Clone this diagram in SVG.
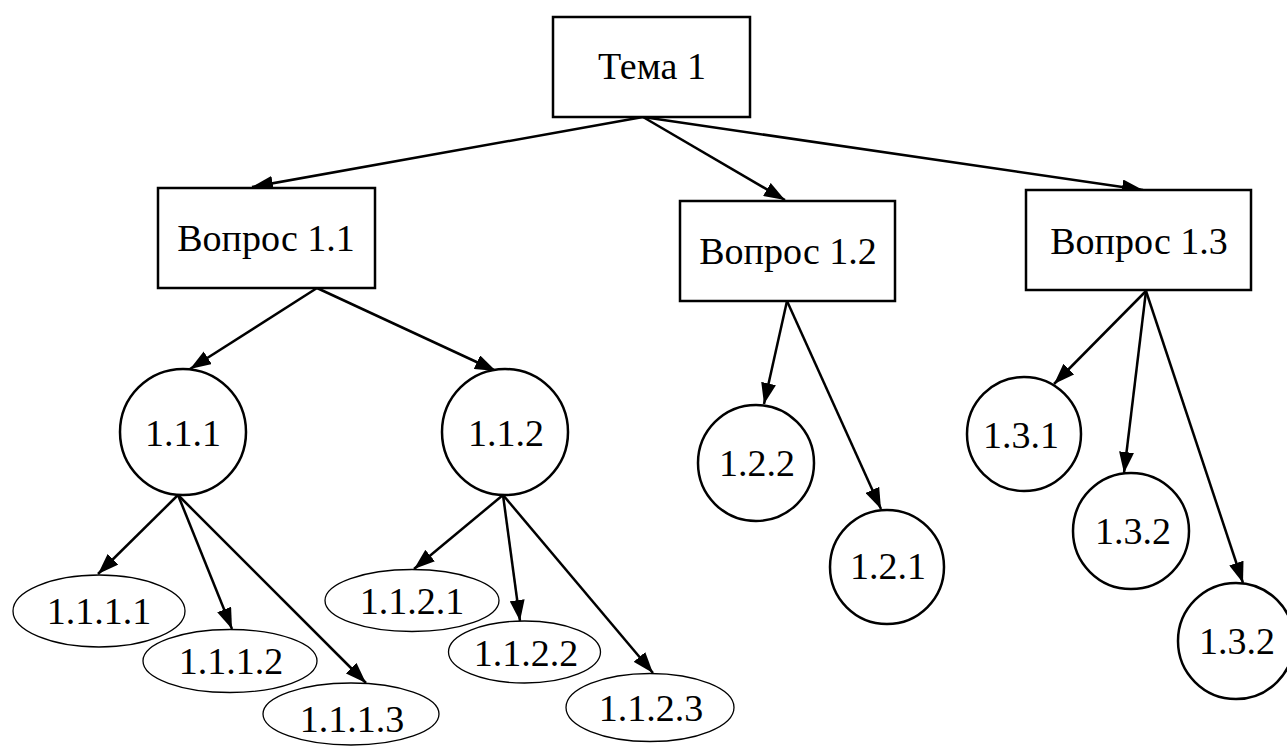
<svg xmlns="http://www.w3.org/2000/svg" width="1287" height="749" viewBox="0 0 1287 749">
<style>
.box{fill:#fff;stroke:#000;stroke-width:2.5}
.circ{fill:#fff;stroke:#000;stroke-width:2.5}
.ell{fill:#fff;stroke:#000;stroke-width:1.3}
.lbl{font-size:38px;fill:#000;text-anchor:middle}
.edge{fill:none;stroke:#000;stroke-width:2.5;marker-end:url(#arr)}
</style>
<defs>
<marker id="arr" markerUnits="userSpaceOnUse" markerWidth="21" markerHeight="15" viewBox="0 0 21 15" refX="21" refY="7.5" orient="auto">
<path d="M0,0 L21,7.5 L0,15 z" fill="#000"/>
</marker>
</defs>
<rect width="1287" height="749" fill="#fff"/>
<g id="connectors">
<path class="edge" d="M643,117 L252,187"/>
<path class="edge" d="M643,117 L785,200"/>
<path class="edge" d="M643,117 L1143,190"/>
<path class="edge" d="M317,288 L190,369"/>
<path class="edge" d="M317,288 L496,371"/>
<path class="edge" d="M178,495 L98,574"/>
<path class="edge" d="M178,495 L232,629"/>
<path class="edge" d="M178,495 L366,683"/>
<path class="edge" d="M503,495 L414,569"/>
<path class="edge" d="M503,495 L520,621"/>
<path class="edge" d="M503,495 L653,673"/>
<path class="edge" d="M787,301 L764,404"/>
<path class="edge" d="M787,301 L881,509"/>
<path class="edge" d="M1146,291 L1054,384"/>
<path class="edge" d="M1146,291 L1124,473"/>
<path class="edge" d="M1146,291 L1243,583"/>
</g>
<g font-family="'Liberation Serif', 'Times New Roman', 'DejaVu Serif', serif">
<g id="tema1"><rect class="box" x="553" y="17" width="197" height="100"/><text class="lbl" x="652" y="79">Тема 1</text></g>
<g id="q11"><rect class="box" x="158" y="188" width="217" height="100"/><text class="lbl" x="266" y="251">Вопрос 1.1</text></g>
<g id="q12"><rect class="box" x="680" y="201" width="215" height="100"/><text class="lbl" x="788" y="264">Вопрос 1.2</text></g>
<g id="q13"><rect class="box" x="1026" y="190" width="225" height="100"/><text class="lbl" x="1139" y="254">Вопрос 1.3</text></g>
<g id="n111"><circle class="circ" cx="183" cy="432" r="63"/><text class="lbl" x="183" y="446">1.1.1</text></g>
<g id="n112"><circle class="circ" cx="505" cy="432" r="63"/><text class="lbl" x="506" y="446">1.1.2</text></g>
<g id="n1111"><ellipse class="ell" cx="99" cy="611" rx="86" ry="36"/><text class="lbl" x="99" y="624">1.1.1.1</text></g>
<g id="n1112"><ellipse class="ell" cx="230" cy="661" rx="87" ry="31.5"/><text class="lbl" x="231" y="674">1.1.1.2</text></g>
<g id="n1113"><ellipse class="ell" cx="351" cy="714" rx="88" ry="31"/><text class="lbl" x="352" y="732">1.1.1.3</text></g>
<g id="n1121"><ellipse class="ell" cx="412" cy="600.5" rx="87" ry="31"/><text class="lbl" x="412" y="614">1.1.2.1</text></g>
<g id="n1122"><ellipse class="ell" cx="524.5" cy="652" rx="76" ry="31"/><text class="lbl" x="526" y="666">1.1.2.2</text></g>
<g id="n1123"><ellipse class="ell" cx="650" cy="707.5" rx="84" ry="34"/><text class="lbl" x="651" y="721">1.1.2.3</text></g>
<g id="n122"><circle class="circ" cx="756" cy="463" r="58"/><text class="lbl" x="757" y="476">1.2.2</text></g>
<g id="n121"><circle class="circ" cx="887" cy="567" r="57"/><text class="lbl" x="888" y="579">1.2.1</text></g>
<g id="n131"><circle class="circ" cx="1024" cy="434" r="57"/><text class="lbl" x="1021" y="448">1.3.1</text></g>
<g id="n132a"><circle class="circ" cx="1131" cy="531" r="58"/><text class="lbl" x="1133" y="544">1.3.2</text></g>
<g id="n132b"><circle class="circ" cx="1236" cy="641" r="58"/><text class="lbl" x="1237" y="654">1.3.2</text></g>
</g>
</svg>
